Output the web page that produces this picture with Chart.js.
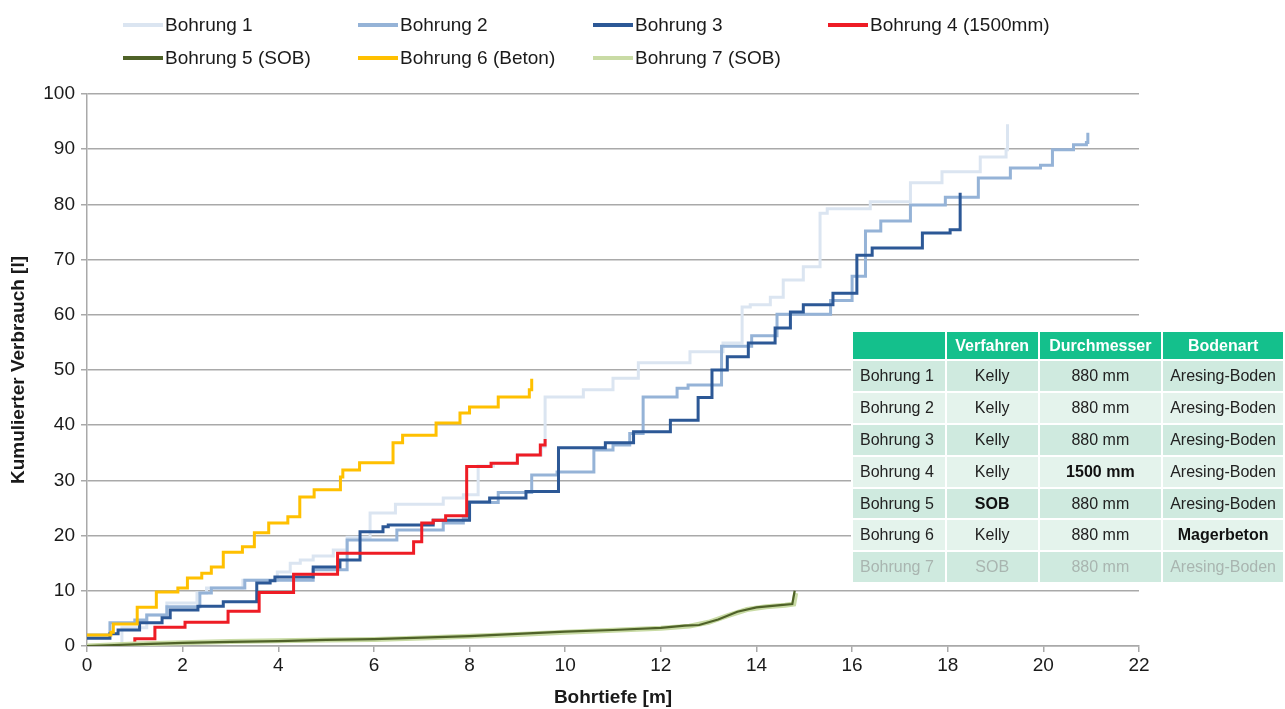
<!DOCTYPE html>
<html>
<head>
<meta charset="utf-8">
<script src="https://cdn.jsdelivr.net/npm/chart.js@4/dist/chart.umd.min.js"></script>
<style>
  html, body { margin: 0; padding: 0; background: #fff; }
  #wrap { position: relative; width: 1285px; height: 709px; font-family: "Liberation Sans", Arial, sans-serif; overflow: hidden; }
  #chart { position: absolute; left: 0; top: 0; }
  .li { position: absolute; font-size: 19px; color: #1a1a1a; line-height: 22px; white-space: nowrap; }
  .li i { position: absolute; left: 0; top: 9px; width: 40px; height: 4px; }
  .li span { position: absolute; left: 42px; top: 0; }
  #tbl { position: absolute; left: 851px; top: 330px; border-collapse: collapse; table-layout: fixed; font-size: 16px; color: #222; }
  #tbl td, #tbl th { border: 2px solid #fff; padding: 0; text-align: center; white-space: nowrap; }
  #tbl th { background: #14c08c; color: #fff; font-weight: bold; height: 27px; }
  #tbl td { height: 29.9px; }
  #tbl td:first-child { text-align: left; padding-left: 7px; }
  #tbl tr.dk td { background: #cfeadf; }
  #tbl tr.lt td { background: #e4f3ec; }
  #tbl tr.fade td { color: #a9b5b0; }
  #tbl b { font-weight: bold; color: #111; }
</style>
</head>
<body>
<div id="wrap">
  <canvas id="chart" width="1285" height="709"></canvas>
  <div id="legend"></div>
  <table id="tbl"></table>
</div>
<script>
// Cumulative consumption per borehole: depth [m] and cumulative volume [l]
const b1Depth = [0, 0.73, 1.25, 1.67, 2.3, 2.5, 3.26, 3.98, 4.25, 4.46, 4.73, 5.15, 5.44, 5.92, 6.45, 7.45, 7.87, 8.18, 8.5, 9.0, 9.5, 9.58, 10.38, 11.0, 11.53, 12.61, 13.3, 13.7, 13.87, 14.29, 14.56, 14.98, 15.33, 15.48, 16.38, 17.22, 17.88, 18.68, 19.22, 19.25];
const b1Vol   = [0, 3.3, 5.6, 7.8, 9.6, 10.5, 11.9, 13.4, 15.0, 15.6, 16.3, 17.4, 19.7, 24.1, 25.7, 26.8, 27.4, 32.6, 33.1, 34.6, 36.1, 45.1, 46.4, 48.5, 51.3, 53.3, 54.9, 61.4, 61.8, 63.2, 66.3, 68.7, 78.4, 79.2, 80.5, 83.9, 85.9, 88.6, 89.9, 94.5];

const b2Depth = [0, 0.48, 1.0, 1.25, 1.67, 2.36, 2.6, 3.3, 4.73, 5.44, 6.48, 7.45, 7.87, 8.0, 8.6, 9.3, 9.83, 10.6, 11.0, 11.35, 11.63, 12.34, 12.57, 13.27, 13.9, 14.43, 15.55, 16.0, 16.28, 16.6, 17.22, 17.95, 18.64, 19.31, 19.94, 20.19, 20.63, 20.9, 20.93];
const b2Vol   = [2.0, 4.2, 4.7, 5.6, 7.1, 9.6, 10.5, 11.9, 13.8, 19.2, 21.0, 22.3, 23.2, 26.0, 27.8, 31.0, 31.5, 35.5, 36.4, 38.5, 45.1, 46.7, 47.3, 54.3, 56.2, 60.1, 62.6, 67.0, 75.2, 77.0, 79.9, 81.3, 84.8, 86.6, 87.1, 89.9, 90.8, 91.2, 93.0];

const b3Depth = [0, 0.48, 0.65, 1.1, 1.57, 1.74, 2.32, 2.85, 3.55, 3.83, 3.93, 4.73, 5.29, 5.71, 6.19, 6.3, 7.24, 8.0, 8.42, 9.18, 9.86, 10.84, 11.43, 12.2, 12.78, 13.07, 13.39, 13.83, 14.39, 14.71, 14.98, 15.6, 16.1, 16.42, 17.47, 18.05, 18.26];
const b3Vol   = [1.4, 2.2, 2.9, 4.2, 5.1, 6.5, 7.2, 8.0, 11.4, 11.8, 12.5, 14.3, 15.6, 20.7, 21.6, 21.9, 22.8, 26.1, 26.8, 28.0, 35.9, 36.8, 38.8, 40.9, 45.0, 50.0, 52.4, 54.9, 57.6, 60.5, 61.8, 63.9, 70.8, 72.1, 74.8, 75.4, 82.1];

const b4Depth = [0.9, 1.0, 1.42, 2.05, 2.95, 3.6, 4.32, 5.24, 6.83, 7.0, 7.24, 7.5, 7.94, 8.45, 9.0, 9.48, 9.58];
const b4Vol   = [0.4, 1.3, 3.4, 4.3, 6.3, 9.7, 13.0, 16.8, 18.9, 22.3, 22.8, 23.6, 32.5, 33.1, 34.6, 36.4, 37.5];

const b5Depth = [0, 1, 2, 3, 4, 5, 6, 7, 8, 9, 10, 11, 12, 12.5, 12.8, 13.2, 13.6, 14.0, 14.5, 14.75, 14.8];
const b5Vol   = [0, 0.3, 0.55, 0.75, 0.9, 1.1, 1.25, 1.5, 1.8, 2.2, 2.6, 2.9, 3.3, 3.7, 3.8, 4.8, 6.2, 7.0, 7.4, 7.6, 10.0];

const b6Depth = [0, 0.5, 0.55, 1.05, 1.45, 1.9, 2.1, 2.4, 2.6, 2.85, 3.25, 3.5, 3.8, 4.2, 4.45, 4.75, 5.3, 5.35, 5.7, 6.4, 6.6, 7.3, 7.8, 8.0, 8.6, 9.25, 9.3];
const b6Vol   = [2.0, 2.5, 4.0, 7.0, 9.8, 10.5, 12.3, 13.2, 14.3, 17.0, 18.0, 20.5, 22.3, 23.4, 27.0, 28.3, 30.6, 31.9, 33.2, 36.8, 38.2, 40.4, 42.2, 43.3, 45.1, 46.4, 48.4];

const b7Depth = [0, 1, 2, 3, 4, 5, 6, 7, 8, 9, 10, 11, 12, 12.6, 13.0, 13.4, 13.8, 14.2, 14.6, 14.78, 14.82];
const b7Vol   = [0, 0.35, 0.6, 0.8, 0.95, 1.1, 1.2, 1.45, 1.75, 2.1, 2.5, 2.85, 3.2, 3.6, 4.3, 5.5, 6.6, 7.1, 7.4, 7.6, 9.6];

const seriesLabels = ['Bohrung 1', 'Bohrung 2', 'Bohrung 3', 'Bohrung 4 (1500mm)', 'Bohrung 5 (SOB)', 'Bohrung 6 (Beton)', 'Bohrung 7 (SOB)'];
const seriesColors = ['#dbe5f1', '#95b3d7', '#2c5896', '#ee1c25', '#4f6228', '#ffc000', '#c9dba5'];

const xTicks = [0, 2, 4, 6, 8, 10, 12, 14, 16, 18, 20, 22];
const yTicks = [0, 10, 20, 30, 40, 50, 60, 70, 80, 90, 100];

// Overview table of the boreholes
const tableHeader = ['', 'Verfahren', 'Durchmesser', 'Bodenart'];
const tableRows = [
  ['Bohrung 1', 'Kelly', '880 mm', 'Aresing-Boden'],
  ['Bohrung 2', 'Kelly', '880 mm', 'Aresing-Boden'],
  ['Bohrung 3', 'Kelly', '880 mm', 'Aresing-Boden'],
  ['Bohrung 4', 'Kelly', '*1500 mm', 'Aresing-Boden'],
  ['Bohrung 5', '*SOB', '880 mm', 'Aresing-Boden'],
  ['Bohrung 6', 'Kelly', '880 mm', '*Magerbeton'],
  ['Bohrung 7', 'SOB', '880 mm', 'Aresing-Boden']
];

const depths = [b1Depth, b2Depth, b3Depth, b4Depth, b5Depth, b6Depth, b7Depth];
const vols = [b1Vol, b2Vol, b3Vol, b4Vol, b5Vol, b6Vol, b7Vol];
const widths = [3, 3, 3, 3, 2.2, 3, 5];
const drawOrder = [6, 5, 4, 3, 0, 2, 1];

// Each point marks the depth at which the cumulative value is reached:
// the line runs flat at the previous value, then rises at that depth.
const datasets = seriesLabels.map((label, i) => ({
  label,
  data: depths[i].map((x, k) => ({ x, y: vols[i][k] })),
  borderColor: seriesColors[i],
  backgroundColor: seriesColors[i],
  borderWidth: widths[i],
  pointRadius: 0,
  fill: false,
  stepped: (i === 4 || i === 6) ? false : 'before',
  borderJoinStyle: 'miter',
  order: drawOrder[i]
}));

// Legend: four fixed columns, two rows
const legend = document.getElementById('legend');
const legCols = [123, 358, 593, 828];
const legRows = [14, 47];
seriesLabels.forEach((label, i) => {
  const d = document.createElement('div');
  d.className = 'li';
  d.style.left = legCols[i % 4] + 'px';
  d.style.top = legRows[Math.floor(i / 4)] + 'px';
  d.innerHTML = '<i style="background:' + seriesColors[i] + '"></i><span>' + label + '</span>';
  legend.appendChild(d);
});

// Table
const tbl = document.getElementById('tbl');
const colW = [94, 93, 124, 122];
let html = '<colgroup>' + colW.map(w => '<col style="width:' + w + 'px">').join('') + '</colgroup>';
html += '<tr>' + tableHeader.map(h => '<th>' + h + '</th>').join('') + '</tr>';
tableRows.forEach((r, i) => {
  const cls = (i === 6) ? 'dk fade' : (i % 2 === 0 ? 'dk' : 'lt');
  html += '<tr class="' + cls + '">' + r.map(c => '<td>' + (c[0] === '*' ? '<b>' + c.slice(1) + '</b>' : c) + '</td>').join('') + '</tr>';
});
tbl.innerHTML = html;

const gridCol = '#a9a9a9';
const tickFont = { family: '"Liberation Sans", Arial, sans-serif', size: 19 };
const titleFont = { family: '"Liberation Sans", Arial, sans-serif', size: 19, weight: 'bold' };

new Chart(document.getElementById('chart'), {
  type: 'line',
  data: { datasets },
  options: {
    responsive: false,
    maintainAspectRatio: false,
    animation: false,
    layout: { padding: { top: 94, right: 146, left: 0, bottom: 0 } },
    plugins: { legend: { display: false }, tooltip: { enabled: false } },
    scales: {
      x: {
        type: 'linear', min: 0, max: 22,
        afterBuildTicks: s => { s.ticks = xTicks.map(v => ({ value: v })); },
        afterFit: s => { s.height = 63; },
        ticks: { font: tickFont, color: '#1a1a1a', padding: 2, maxRotation: 0 },
        grid: { drawOnChartArea: false, drawTicks: true, tickLength: 6, color: gridCol, lineWidth: 1.5 },
        border: { display: true, color: gridCol, width: 1.5 },
        title: { display: true, text: 'Bohrtiefe [m]', font: titleFont, color: '#1a1a1a', padding: { top: 0, bottom: 0 } }
      },
      y: {
        type: 'linear', min: 0, max: 100,
        afterBuildTicks: s => { s.ticks = yTicks.map(v => ({ value: v })); },
        afterFit: s => { s.width = 87; },
        ticks: { font: tickFont, color: '#1a1a1a', padding: 6 },
        grid: { drawOnChartArea: true, drawTicks: true, tickLength: 6, color: gridCol, lineWidth: 1.5 },
        border: { display: true, color: gridCol, width: 1.5 },
        title: { display: true, text: 'Kumulierter Verbrauch [l]', font: titleFont, color: '#1a1a1a', padding: { top: 7, bottom: 0 } }
      }
    }
  }
});
</script>
</body>
</html>
